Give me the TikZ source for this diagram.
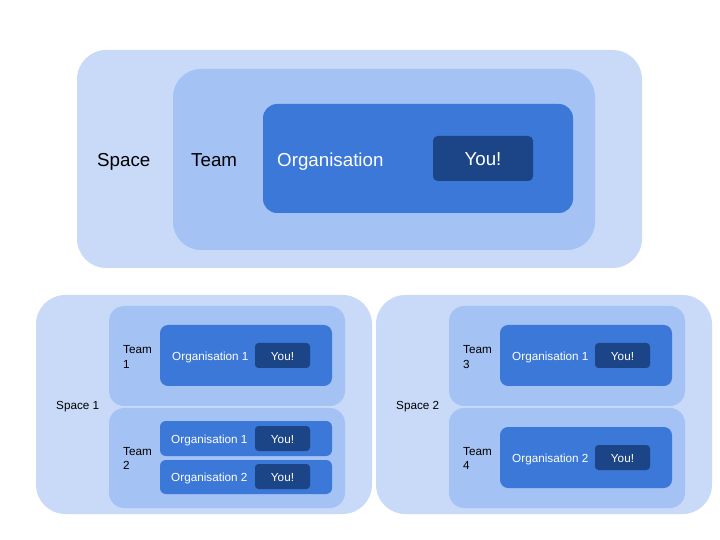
\documentclass[tikz,border=0pt]{standalone}
\usepackage{fontspec}
\setmainfont{Liberation Sans}
\definecolor{spacefill}{HTML}{C9DAF8}
\definecolor{teamfill}{HTML}{A4C2F4}
\definecolor{orgfill}{HTML}{3C78D8}
\definecolor{youfill}{HTML}{1C4587}
\begin{document}
\begin{tikzpicture}[x=0.03cm, y=0.03cm]
        \tikzstyle{every node}+=[inner sep=0pt]
        \tikzstyle{bigtext}=[font=\fontsize{16}{19}\selectfont]
        \tikzstyle{smalltext}=[font=\fontsize{10}{12}\selectfont, align=left]
        \useasboundingbox (0,0) rectangle (720,-540);
        % overview
        \fill [spacefill, rounded corners=25pt] (77,-50) rectangle (642,-268);
        \fill [teamfill, rounded corners=24pt] (173,-69) rectangle (595,-250);
        \fill [orgfill, rounded corners=12pt] (263,-104) rectangle (573,-213);
        \fill [youfill, rounded corners=4pt] (433,-136) rectangle (533,-181);
        \node [bigtext, anchor=base west] (space) at (97,-167) {Space};
        \node [bigtext, anchor=base west] (team) at (191,-167) {Team};
        \node [bigtext, anchor=base west, white] (org) at (277,-167) {Organisation};
        \node [bigtext, anchor=base, white] (you) at (483,-166) {You!};
        % space 1
        \fill [spacefill, rounded corners=25pt] (36,-295) rectangle (372,-514);
        \fill [teamfill, rounded corners=13pt] (109,-306) rectangle (345,-406);
        \fill [teamfill, rounded corners=13pt] (109,-408) rectangle (345,-508);
        \fill [orgfill, rounded corners=7pt] (160,-325) rectangle (332,-386);
        \fill [orgfill, rounded corners=5pt] (160,-421) rectangle (332,-456);
        \fill [orgfill, rounded corners=5pt] (160,-460) rectangle (332,-494);
        \fill [youfill, rounded corners=3pt] (255,-343) rectangle (310,-368);
        \fill [youfill, rounded corners=3pt] (255,-426) rectangle (310,-451);
        \fill [youfill, rounded corners=3pt] (255,-464) rectangle (310,-489);
        \node [smalltext, anchor=base west] (spaceA) at (56,-409) {Space 1};
        \node [smalltext, anchor=base west] (teamA) at (123,-368) {Team\\1};
        \node [smalltext, anchor=base west] (teamB) at (123,-469.5) {Team\\2};
        \node [smalltext, anchor=base west, white] (orgA) at (172,-361) {Organisation 1};
        \node [smalltext, anchor=base west, white] (orgB) at (171,-443.5) {Organisation 1};
        \node [smalltext, anchor=base west, white] (orgC) at (171,-481.5) {Organisation 2};
        \node [smalltext, anchor=base, white] (youA) at (282.5,-361) {You!};
        \node [smalltext, anchor=base, white] (youB) at (282.5,-443.5) {You!};
        \node [smalltext, anchor=base, white] (youC) at (282.5,-481.5) {You!};
        % space 2
        \fill [spacefill, rounded corners=25pt] (376,-295) rectangle (712,-514);
        \fill [teamfill, rounded corners=13pt] (449,-306) rectangle (685,-406);
        \fill [teamfill, rounded corners=13pt] (449,-408) rectangle (685,-508);
        \fill [orgfill, rounded corners=7pt] (500,-325) rectangle (672,-386);
        \fill [orgfill, rounded corners=7pt] (500,-427) rectangle (672,-488);
        \fill [youfill, rounded corners=3pt] (595,-343) rectangle (650,-368);
        \fill [youfill, rounded corners=3pt] (595,-445) rectangle (650,-470);
        \node [smalltext, anchor=base west] (spaceB) at (396,-409) {Space 2};
        \node [smalltext, anchor=base west] (teamC) at (463,-368) {Team\\3};
        \node [smalltext, anchor=base west] (teamD) at (463,-469.5) {Team\\4};
        \node [smalltext, anchor=base west, white] (orgD) at (512,-361) {Organisation 1};
        \node [smalltext, anchor=base west, white] (orgE) at (512,-462) {Organisation 2};
        \node [smalltext, anchor=base, white] (youD) at (622.5,-361) {You!};
        \node [smalltext, anchor=base, white] (youE) at (622.5,-462) {You!};
\end{tikzpicture}
\end{document}
